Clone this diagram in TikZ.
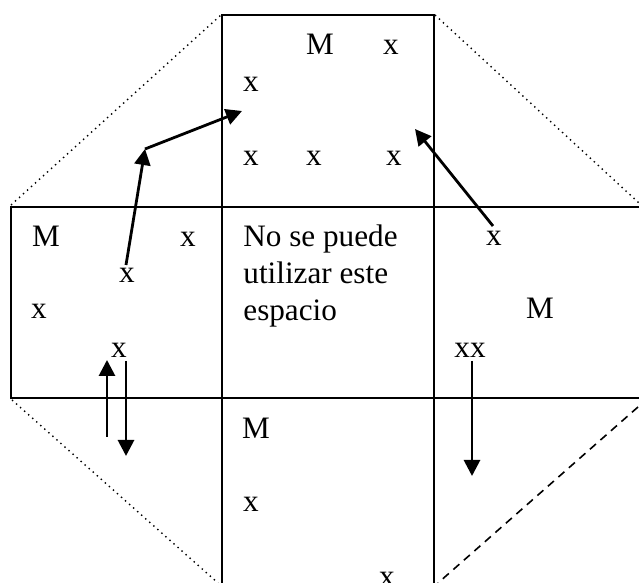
\documentclass[tikz,border=0pt]{standalone}
\usepackage{fontspec}
\setmainfont{Liberation Serif}
\usetikzlibrary{arrows.meta}
\begin{document}
\begin{tikzpicture}[x=0.5pt,y=-0.5pt,
  lbl/.style={inner sep=0pt,anchor=base,font=\fontsize{15.6}{18.5}\selectfont},
  lblw/.style={lbl,anchor=base west},
  wall/.style={line width=1.1pt,line cap=rect},
  diag/.style={line width=0.7pt,dotted},
  diagd/.style={line width=0.8pt,dash pattern=on 4pt off 3pt},
  mov/.style={line width=1.4pt,-{Triangle[length=8pt,width=8pt]}}]
\useasboundingbox (0,0) rectangle (639,583);
% walls
\draw[wall] (222,583) -- (222,15) -- (434,15) -- (434,583);
\draw[wall] (639,207) -- (11,207) -- (11,398) -- (639,398);
% diagonals
\draw[diag] (11,205) -- (221,15);
\draw[diag] (435,15) -- (639,203);
\draw[diag] (12,400) -- (218,583);
\draw[diagd] (638,407) -- (438,583);
% labels top
\node[lbl] (tM) at (320,55) {M};
\node[lbl] (tx1) at (391,55) {x};
\node[lbl] (tx2) at (251,92) {x};
\node[lbl] (tx3) at (251,166) {x};
\node[lbl] (tx4) at (314,166) {x};
\node[lbl] (tx5) at (394,166) {x};
% left
\node[lbl] (lM) at (46,247) {M};
\node[lbl] (lx1) at (188,247) {x};
\node[lbl] (lx2) at (127,283) {x};
\node[lbl] (lx3) at (39,319) {x};
\node[lbl] (lx4) at (119,358) {x};
% center
\node[lblw] (c1) at (243,247) {No se puede};
\node[lblw] (c2) at (243,284) {utilizar este};
\node[lblw] (c3) at (243,321) {espacio};
% right
\node[lbl] (rx1) at (494,246) {x};
\node[lbl] (rM) at (540,319) {M};
\node[lbl] (rxx) at (470,358) {xx};
% bottom
\node[lbl] (bM) at (256,439) {M};
\node[lbl] (bx1) at (251,512) {x};
\node[lbl] (bx2) at (387,587) {x};
% arrow points
\coordinate (a1s) at (126,265);
\coordinate (a1e) at (145,149);
\coordinate (a2e) at (242,111);
\coordinate (a3s) at (493,226);
\coordinate (a3e) at (415,129);
\coordinate (a4s) at (107,437);
\coordinate (a4e) at (107,360);
\coordinate (a5s) at (126,361);
\coordinate (a5e) at (126,456);
\coordinate (a6s) at (472,361);
\coordinate (a6e) at (472,476);
\draw[mov] (a1s) -- (a1e);
\draw[mov] (a1e) -- (a2e);
\draw[mov] (a3s) -- (a3e);
\draw[mov] (a4s) -- (a4e);
\draw[mov] (a5s) -- (a5e);
\draw[mov] (a6s) -- (a6e);
\end{tikzpicture}
\end{document}
